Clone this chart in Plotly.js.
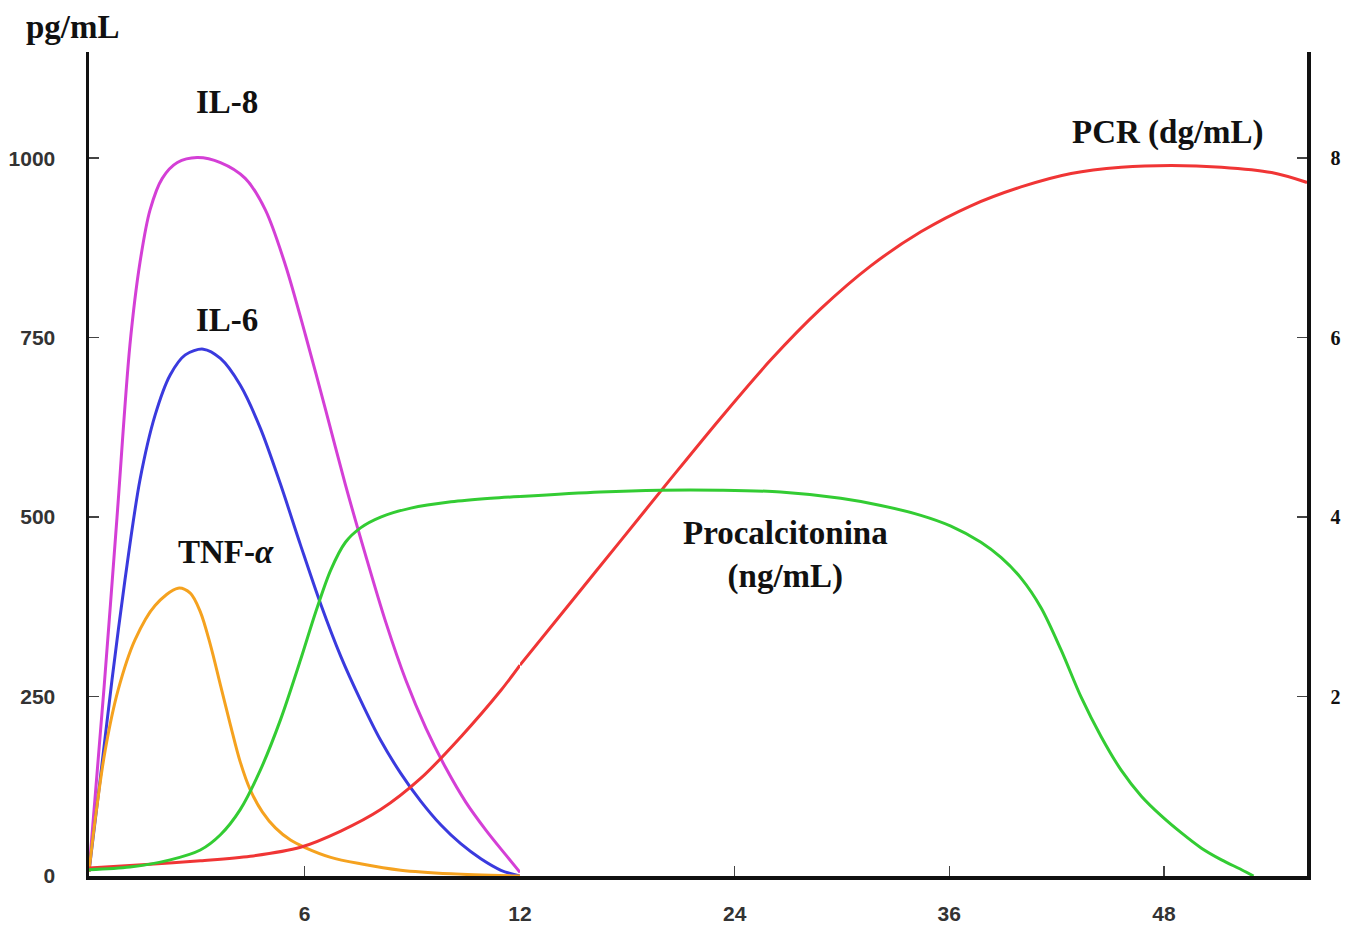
<!DOCTYPE html>
<html>
<head>
<meta charset="utf-8">
<script src="https://cdn.plot.ly/plotly-3.0.1.min.js"></script>
<style>html,body{margin:0;padding:0;background:#fff;}#chart{width:1345px;height:926px;}</style>
</head>
<body>
<div id="chart"></div>
<script>
// Hours after onset (0-12 h drawn on a wider scale, 12-56 h on a narrower one)
const il8Hours = [0, 0.42, 0.78, 1.14, 1.42, 1.7, 2.04, 2.46, 3.01, 3.66, 4.35, 4.91, 5.47, 6.03, 6.59, 7.14, 7.7, 8.26, 8.82, 9.38, 9.94, 10.49, 11.05, 11.61, 12];
const il8Values = [6, 263, 500, 740, 855, 928, 972, 994, 1001, 994, 972, 928, 851, 753, 649, 545, 447, 354, 273, 206, 150, 103, 64, 29, 5];

const il6Hours = [0, 0.31, 0.64, 1.0, 1.42, 1.84, 2.26, 2.68, 3.18, 3.66, 4.21, 4.77, 5.33, 5.89, 6.45, 7.01, 7.56, 8.12, 8.68, 9.24, 9.8, 10.35, 10.91, 11.47, 12];
const il6Values = [6, 134, 273, 412, 552, 642, 698, 726, 734, 721, 684, 624, 546, 461, 379, 306, 245, 189, 143, 104, 71, 45, 24, 8, 0];

const tnfHours = [0, 0.17, 0.45, 0.81, 1.28, 1.84, 2.48, 2.82, 3.1, 3.38, 3.66, 3.94, 4.21, 4.49, 4.83, 5.19, 5.61, 6.0, 6.73, 7.56, 8.68, 10.08, 12];
const tnfValues = [6, 78, 175, 259, 329, 377, 401, 394, 368, 322, 266, 210, 159, 120, 89, 67, 50, 40, 26, 17, 8, 3, 0];

// Procalcitonina (ng/mL), right axis: first 12 h, then 12 h onwards
const pctHoursEarly = [0, 1.14, 2.26, 3.1, 3.66, 4.21, 4.77, 5.33, 5.89, 6.31, 6.73, 7.14, 7.56, 8.12, 8.96, 10.08, 11.19, 12];
const pctValuesEarly = [0.07, 0.1, 0.18, 0.29, 0.46, 0.74, 1.18, 1.74, 2.41, 2.94, 3.41, 3.72, 3.88, 4.0, 4.1, 4.17, 4.21, 4.23];
const pctHoursLate = [12, 16.48, 19.84, 23.2, 26.57, 29.93, 32.17, 34.41, 36.09, 37.77, 38.89, 40.01, 41.13, 42.25, 43.38, 44.5, 45.61, 46.74, 47.86, 48.98, 50.1, 51.22, 52.34, 53.01];
const pctValuesLate = [4.23, 4.28, 4.3, 4.3, 4.28, 4.21, 4.13, 4.02, 3.9, 3.72, 3.55, 3.32, 2.99, 2.52, 1.99, 1.55, 1.18, 0.89, 0.67, 0.48, 0.31, 0.18, 0.07, 0];

// PCR (dg/mL), right axis
const pcrHoursEarly = [0, 1.7, 3.1, 4.49, 5.89, 7.01, 8.12, 9.24, 10.35, 11.47, 12];
const pcrValuesEarly = [0.09, 0.13, 0.17, 0.22, 0.32, 0.5, 0.74, 1.09, 1.55, 2.07, 2.35];
const pcrHoursLate = [12, 14.8, 17.6, 20.4, 23.2, 26.01, 28.81, 31.61, 34.41, 37.21, 40.01, 42.81, 45.61, 48.41, 51.22, 54.02, 56];
const pcrValuesLate = [2.35, 3.04, 3.73, 4.42, 5.1, 5.75, 6.32, 6.8, 7.18, 7.47, 7.68, 7.83, 7.9, 7.92, 7.9, 7.84, 7.73];

const leftTicks = [0, 250, 500, 750, 1000];
const leftTickText = ['0', '250', '500', '750', '1000'];
const rightTicks = [2, 4, 6, 8];
const rightTickText = ['2', '4', '6', '8'];
const earlyHourTicks = [6];
const earlyHourText = ['6'];
const lateHourTicks = [12, 24, 36, 48];
const lateHourText = ['12', '24', '36', '48'];

const COLORS = {il8: '#d43fd6', il6: '#3a3ade', tnf: '#f5a21f', pct: '#33cc33', pcr: '#f03535'};
const LW = 3;

function line(x, y, color, xa, ya) {
  return {x: x, y: y, type: 'scatter', mode: 'lines', xaxis: xa, yaxis: ya,
    line: {color: color, width: LW, shape: 'spline', smoothing: 0.9}, hoverinfo: 'skip', showlegend: false};
}

const traces = [
  line(pcrHoursEarly, pcrValuesEarly, COLORS.pcr, 'x', 'y2'),
  line(pcrHoursLate, pcrValuesLate, COLORS.pcr, 'x2', 'y2'),
  line(pctHoursEarly, pctValuesEarly, COLORS.pct, 'x', 'y2'),
  line(pctHoursLate, pctValuesLate, COLORS.pct, 'x2', 'y2'),
  line(il8Hours, il8Values, COLORS.il8, 'x', 'y'),
  line(il6Hours, il6Values, COLORS.il6, 'x', 'y'),
  line(tnfHours, tnfValues, COLORS.tnf, 'x', 'y')
];

const split = (520 - 89) / (1307 - 89);
const sansTick = {family: 'Liberation Sans, Arial, sans-serif', size: 21, color: '#333', weight: 700};
const serifTick = {family: 'Liberation Serif, Times New Roman, serif', size: 20, color: '#111', weight: 700};
const axisCommon = {showline: true, linecolor: '#111', linewidth: 3.5, showgrid: false, zeroline: false,
  ticks: 'inside', ticklen: 10, tickwidth: 1.5, tickcolor: '#444', fixedrange: true};

const layout = {
  width: 1345, height: 926,
  margin: {l: 89, r: 38, t: 52, b: 50},
  paper_bgcolor: '#fff', plot_bgcolor: '#fff',
  showlegend: false,
  xaxis: Object.assign({}, axisCommon, {domain: [0, split], range: [0, 12], anchor: 'y',
    tickmode: 'array', tickvals: earlyHourTicks, ticktext: earlyHourText, tickfont: sansTick, ticklabelstandoff: 16}),
  xaxis2: Object.assign({}, axisCommon, {domain: [split, 1], range: [12, 56], anchor: 'y',
    tickmode: 'array', tickvals: lateHourTicks, ticktext: lateHourText, tickfont: sansTick, ticklabelstandoff: 16}),
  yaxis: Object.assign({}, axisCommon, {range: [0, 1148], anchor: 'x',
    tickmode: 'array', tickvals: leftTicks, ticktext: leftTickText, tickfont: sansTick, ticklabelstandoff: 26}),
  yaxis2: Object.assign({}, axisCommon, {range: [0, 1148 / 125], overlaying: 'y', side: 'right', anchor: 'x2',
    tickmode: 'array', tickvals: rightTicks, ticktext: rightTickText, tickfont: serifTick, ticklabelstandoff: 16}),
  annotations: [
    {text: 'pg/mL', xref: 'paper', yref: 'paper', x: -0.013, y: 1.03, xanchor: 'center', yanchor: 'middle'},
    {text: 'IL-8', xref: 'x', yref: 'y', x: 3.85, y: 1079, xanchor: 'center', yanchor: 'middle'},
    {text: 'IL-6', xref: 'x', yref: 'y', x: 3.85, y: 774, xanchor: 'center', yanchor: 'middle'},
    {text: 'TNF-<i>α</i>', xref: 'x', yref: 'y', x: 3.82, y: 451, xanchor: 'center', yanchor: 'middle'},
    {text: 'PCR (dg/mL)', xref: 'x2', yref: 'y', x: 48.25, y: 1036, xanchor: 'center', yanchor: 'middle'},
    {text: 'Procalcitonina<br>(ng/mL)', xref: 'x2', yref: 'y', x: 26.85, y: 447, xanchor: 'center', yanchor: 'middle'}
  ].map(a => Object.assign({showarrow: false,
    font: {family: 'Liberation Serif, Times New Roman, serif', size: 33, color: '#111', weight: 700}}, a))
};

Plotly.newPlot('chart', traces, layout, {staticPlot: true, displayModeBar: false});
</script>
</body>
</html>
